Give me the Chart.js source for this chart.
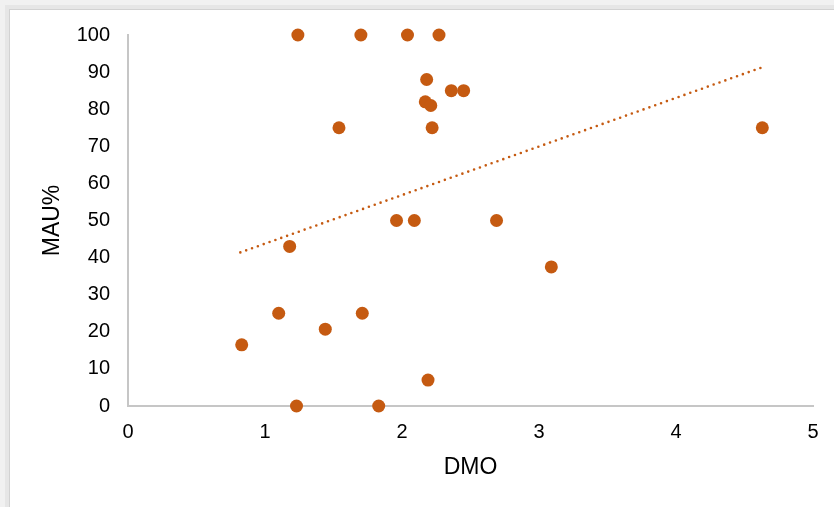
<!DOCTYPE html>
<html>
<head>
<meta charset="utf-8">
<script src="https://cdn.jsdelivr.net/npm/chart.js@4/dist/chart.umd.min.js"></script>
<style>
  html, body { margin: 0; padding: 0; background: #f1f1f1; }
  #shade { position: absolute; left: 5px; top: 5px; width: 829px; height: 502px; background: #e6e6e6; }
  #frame { position: absolute; left: 9px; top: 9px; width: 825px; height: 498px; background: #fff;
           border-top: 1px solid #d2d2d2; border-left: 1px solid #d2d2d2; }
  #wrap { position: absolute; left: 0; top: 0; width: 834px; height: 507px; }
</style>
</head>
<body>
<div id="shade"></div>
<div id="frame"></div>
<div id="wrap"><canvas id="scatter" width="834" height="507"></canvas></div>
<script>
// DMO vs MAU% values
var dmo = [1.24, 1.70, 2.04, 2.27, 2.18, 2.36, 2.45, 2.17, 2.21, 1.54, 2.22, 4.63,
           1.96, 2.09, 2.69, 1.18, 3.09, 1.10, 1.71, 1.44, 0.83, 2.19, 1.23, 1.83];
var mau = [100, 100, 100, 100, 88, 85, 85, 82, 81, 75, 75, 75,
           50, 50, 50, 43, 37.5, 25, 25, 20.7, 16.5, 7, 0, 0];
// linear trendline ends (Excel dotted trendline)
var trendX = [0.82, 4.63];
var trendY = [41.4, 91.3];

var xTicks = [0, 1, 2, 3, 4, 5];
var yTicks = [0, 10, 20, 30, 40, 50, 60, 70, 80, 90, 100];

var orange = '#c55a11';
var axisGray = '#c6c6c6';

var pts = dmo.map(function (x, i) { return { x: x, y: mau[i] }; });
var trend = trendX.map(function (x, i) { return { x: x, y: trendY[i] }; });

Chart.defaults.font.family = "'Liberation Sans', Arial, sans-serif";
Chart.defaults.color = '#000';

var ctx = document.getElementById('scatter');
var chart = new Chart(ctx, {
  type: 'scatter',
  data: {
    datasets: [{
      label: 'MAU%',
      data: pts,
      backgroundColor: orange,
      borderColor: orange,
      borderWidth: 0,
      pointRadius: 6.5,
      clip: false
    }, {
      label: 'trend',
      type: 'line',
      data: trend,
      borderColor: orange,
      borderWidth: 2.6,
      borderDash: [0, 6.2],
      borderCapStyle: 'round',
      pointRadius: 0,
      fill: false,
      clip: false
    }]
  },
  options: {
    responsive: false,
    animation: false,
    layout: { padding: { left: 0, right: 21, top: 35, bottom: 0 } },
    plugins: { legend: { display: false }, tooltip: { enabled: false } },
    scales: {
      x: {
        type: 'linear',
        min: 0, max: 5,
        afterBuildTicks: function (s) { s.ticks = xTicks.map(function (v) { return { value: v }; }); },
        afterFit: function (s) { s.height = 507 - 406; },
        grid: { display: false, drawTicks: false },
        border: { display: true, color: axisGray, width: 2 },
        ticks: { padding: 14, font: { size: 20 }, color: '#000' },
        title: { display: true, text: 'DMO', font: { size: 23 }, color: '#000', padding: { top: 0, bottom: 26 } }
      },
      y: {
        min: 0, max: 100,
        afterBuildTicks: function (s) { s.ticks = yTicks.map(function (v) { return { value: v }; }); },
        afterFit: function (s) { s.width = 128; },
        grid: { display: false, drawTicks: false },
        border: { display: true, color: axisGray, width: 2 },
        ticks: { padding: 18, font: { size: 20 }, color: '#000' },
        title: { display: true, text: 'MAU%', font: { size: 23 }, color: '#000', padding: { top: 39, bottom: 0 } }
      }
    }
  }
});
</script>
</body>
</html>
